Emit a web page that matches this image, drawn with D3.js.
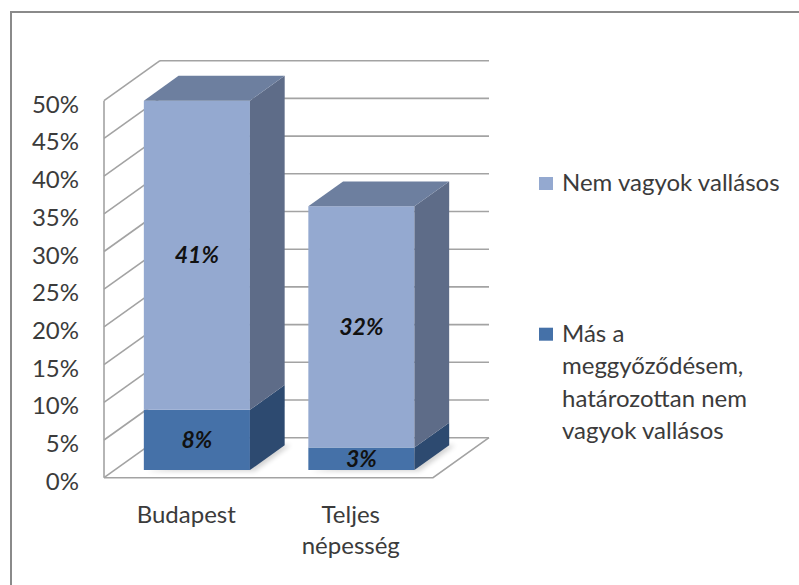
<!DOCTYPE html>
<html>
<head>
<meta charset="utf-8">
<script src="https://cdn.jsdelivr.net/npm/d3@7"></script>
<style>
  html, body { margin: 0; padding: 0; background: #fff; }
  svg { display: block; }
  text { font-family: Lato, "Open Sans", sans-serif; }
</style>
</head>
<body>
<svg id="chart" width="799" height="585"></svg>
<script>
// ---- data ----
const categories = ["Budapest", "Teljes népesség"];
const categoryLines = [["Budapest"], ["Teljes", "népesség"]];
const seriesNames = ["Más a meggyőződésem, határozottan nem vagyok vallásos", "Nem vagyok vallásos"];
const seriesDark = [8, 3];     // Más a meggyőződésem, határozottan nem vagyok vallásos
const seriesLight = [41, 32];  // Nem vagyok vallásos
const yTicks = [0, 5, 10, 15, 20, 25, 30, 35, 40, 45, 50];
const legendLightLines = ["Nem vagyok vallásos"];
const legendDarkLines = ["Más a", "meggyőződésem,", "határozottan nem", "vagyok vallásos"];

// ---- layout ----
const svg = d3.select("#chart");
const W = 799, H = 585;

const colors = {
  lightFront: "#94A9D0", lightSide: "#5E6C88", lightTop: "#6D7F9F",
  darkFront: "#4571A8", darkSide: "#2D4A70", darkTop: "#3A5A85",
  grid: "#a3a3a3", text: "#3b3b3b"
};

// front plane scales
const x = d3.scaleBand().domain(categories).range([104, 433]).paddingInner(0).paddingOuter(0);
const y = d3.scaleLinear().domain([0, 50]).range([477.7, 100.7]);
const DX = 56, DY = -40;              // full depth offset
const zFront = 0.19, zBack = 0.81;    // bar depth position
const barFrac = 0.645;

function P(px, v, z) { return [px + z * DX, y(v) + z * DY]; }
const line = d3.line();

// outer frame (left + top)
svg.append("path").attr("d", line([[11, H], [11, 12], [W, 12]]))
  .attr("fill", "none").attr("stroke", "#8a8a8a").attr("stroke-width", 2);

const x0 = x.range()[0], x1 = x.range()[1];
const g = svg.append("g");

// back wall gridlines
yTicks.forEach(t => {
  g.append("path").attr("d", line([P(x0, t, 1), P(x1, t, 1)]))
    .attr("stroke", colors.grid).attr("stroke-width", 1.6).attr("fill", "none");
  // side wall lines
  g.append("path").attr("d", line([P(x0, t, 0), P(x0, t, 1)]))
    .attr("stroke", colors.grid).attr("stroke-width", 1.6).attr("fill", "none");
});
// left wall front edge
g.append("path").attr("d", line([P(x0, 0, 0), P(x0, 50, 0)]))
  .attr("stroke", colors.grid).attr("stroke-width", 1.6).attr("fill", "none");
// floor front + right edge
g.append("path").attr("d", line([P(x0, 0, 0), P(x1, 0, 0), P(x1, 0, 1)]))
  .attr("stroke", colors.grid).attr("stroke-width", 1.6).attr("fill", "none");

// shadow filter
const defs = svg.append("defs");
defs.append("filter").attr("id", "sh").attr("x", "-20%").attr("y", "-20%").attr("width", "140%").attr("height", "140%")
  .append("feGaussianBlur").attr("stdDeviation", 2.5);

// bars
const data = categories.map((c, i) => ({
  cat: c,
  segs: [
    { v0: 0, v1: seriesDark[i], front: colors.darkFront, side: colors.darkSide, top: colors.darkTop, label: seriesDark[i] + "%" },
    { v0: seriesDark[i], v1: seriesDark[i] + seriesLight[i], front: colors.lightFront, side: colors.lightSide, top: colors.lightTop, label: seriesLight[i] + "%" }
  ]
}));

data.forEach(d => {
  const bw = x.bandwidth() * barFrac;
  const bl = x(d.cat) + (x.bandwidth() - bw) / 2;
  const br = bl + bw;
  const total = d.segs[d.segs.length - 1].v1;
  // soft shadow at the base
  g.append("path").attr("d", line([P(bl + 4, 0, zFront - 0.02), P(br + 6, 0, zFront - 0.02), P(br + 6, 0, zBack), P(br, 0, zBack)]) + "Z")
    .attr("fill", "#000").attr("opacity", 0.18).attr("filter", "url(#sh)");
  d.segs.forEach(s => {
    // front face
    g.append("path").attr("d", line([P(bl, s.v0, zFront), P(br, s.v0, zFront), P(br, s.v1, zFront), P(bl, s.v1, zFront)]) + "Z")
      .attr("fill", s.front);
    // side face
    g.append("path").attr("d", line([P(br, s.v0, zFront), P(br, s.v0, zBack), P(br, s.v1, zBack), P(br, s.v1, zFront)]) + "Z")
      .attr("fill", s.side);
  });
  const topSeg = d.segs[d.segs.length - 1];
  g.append("path").attr("d", line([P(bl, total, zFront), P(br, total, zFront), P(br, total, zBack), P(bl, total, zBack)]) + "Z")
    .attr("fill", topSeg.top);
  // labels
  d.segs.forEach(s => {
    const c = P((bl + br) / 2, (s.v0 + s.v1) / 2, zFront);
    g.append("text").attr("x", c[0]).attr("y", c[1]).attr("dy", "0.36em")
      .attr("text-anchor", "middle").attr("font-size", 23).attr("font-weight", "bold")
      .attr("font-style", "italic").attr("fill", "#111").text(s.label);
  });
});

// y axis labels
yTicks.forEach(t => {
  svg.append("text").attr("x", 79).attr("y", y(t) + 12)
    .attr("text-anchor", "end").attr("font-size", 24).attr("fill", colors.text).text(t + "%");
});

// x axis labels
categories.forEach((c, i) => {
  const t = svg.append("text").attr("text-anchor", "middle").attr("font-size", 24).attr("fill", colors.text);
  categoryLines[i].forEach((ln, j) => {
    t.append("tspan").attr("x", x(c) + x.bandwidth() / 2).attr("y", 522.7 + j * 31.5).text(ln);
  });
});

// legend
const legend = [
  { lines: legendLightLines, color: colors.lightFront, y: 191 },
  { lines: legendDarkLines, color: colors.darkFront, y: 341.7 }
];
legend.forEach(l => {
  svg.append("rect").attr("x", 539).attr("y", l.y - 14).attr("width", 14).attr("height", 13).attr("fill", l.color);
  const t = svg.append("text").attr("font-size", 24).attr("fill", colors.text);
  l.lines.forEach((ln, j) => {
    t.append("tspan").attr("x", 562).attr("y", l.y + j * 32.5).text(ln);
  });
});
</script>
</body>
</html>
